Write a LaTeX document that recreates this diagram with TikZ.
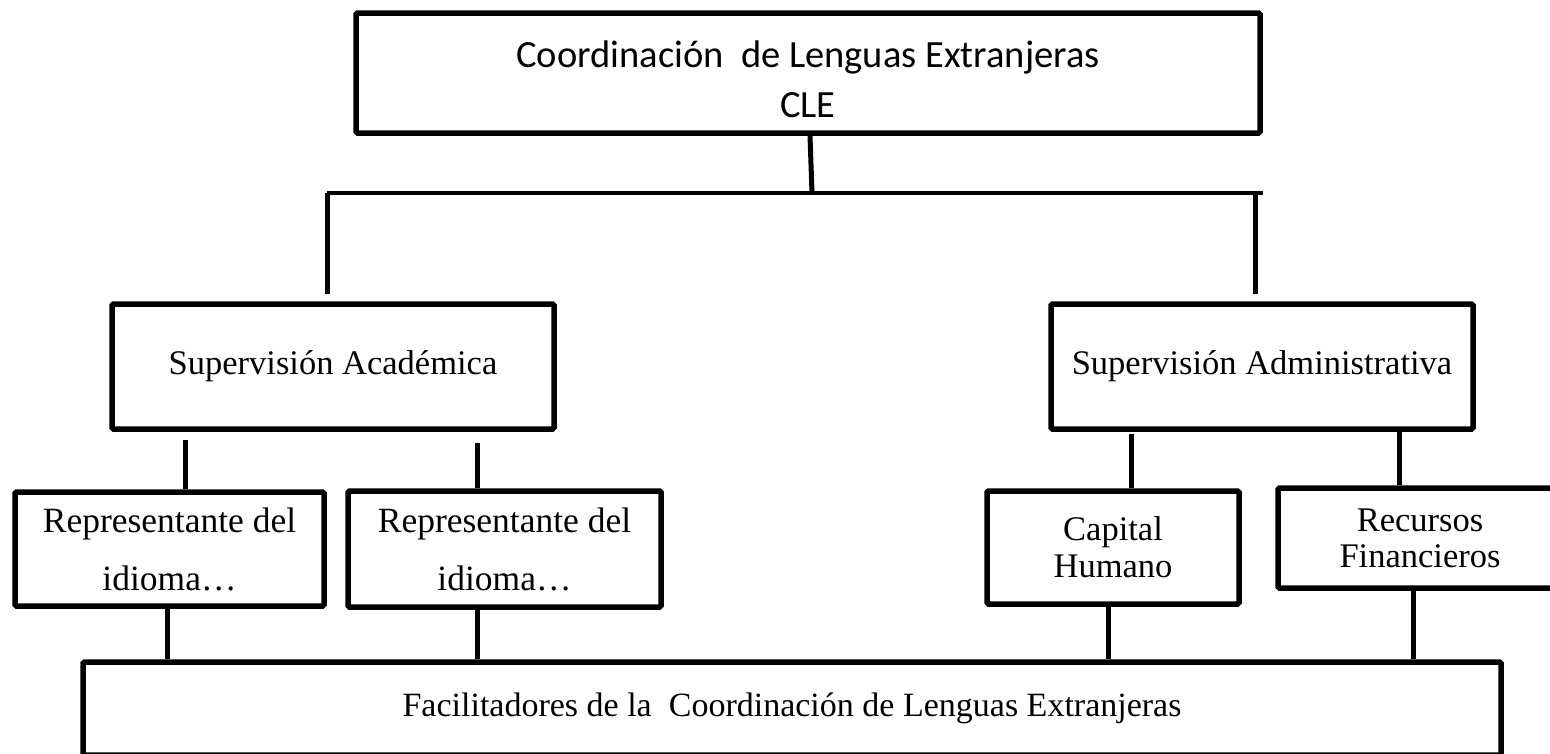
\documentclass[tikz,border=0pt]{standalone}
\usepackage{fontspec}
\setmainfont{Liberation Serif}
\newfontfamily\topfont{Carlito}
\begin{document}
\begin{tikzpicture}[x=1pt,y=-1pt,
  box/.style={draw, line width=5.5pt, rounded corners=1.5pt, inner sep=0pt, align=center,
    font=\fontsize{34.5}{40}\selectfont},
  conn/.style={line width=5pt}]
\useasboundingbox (0,0) rectangle (1550,753);
\clip (0,0) rectangle (1550,753);
% boxes
\node[box, minimum width=904pt, minimum height=120pt] (top) at (808,73) {};
\node[align=center, inner sep=0pt, font=\topfont\fontsize{38.5}{50}\selectfont] (toptext) at ([yshift=-6pt]top.center) {Coordinación~ de Lenguas Extranjeras\\CLE};
\node[box, minimum width=442pt, minimum height=125pt] (supA) at (333,366.5) {Supervisión Académica};
\node[box, minimum width=422pt, minimum height=125pt] (supB) at (1262,366.5) {Supervisión Administrativa};
\node[box, minimum width=309pt, minimum height=114pt, font=\fontsize{35.5}{58}\selectfont] (rep1) at (169.5,549) {Representante del\\idioma…};
\node[box, minimum width=313pt, minimum height=116pt, font=\fontsize{35.5}{58}\selectfont] (rep2) at (504.5,549) {Representante del\\idioma…};
\node[box, minimum width=252pt, minimum height=113pt, font=\fontsize{34.5}{37}\selectfont] (cap) at (1113,547.5) {Capital\\Humano};
\node[box, minimum width=284pt, minimum height=100pt, font=\fontsize{34.5}{36}\selectfont] (rec) at (1420,538) {Recursos\\Financieros};
\node[box, minimum width=1418pt, minimum height=93pt, font=\fontsize{34}{40}\selectfont] (fac) at (792,708.5) {Facilitadores de la~ Coordinación de Lenguas Extranjeras};
% bus
\coordinate (hl) at (327,193);
\coordinate (hm) at (812,193);
\coordinate (hr) at (1263,193);
\coordinate (hrv) at (1255,193);
\draw[conn] ([xshift=2pt]top.south) -- (hm);
\draw[conn, line width=4.5pt] (hl) -- (hr);
\draw[conn, shorten >=7pt] (hl) -- (hl |- supA.north);
\draw[conn, shorten >=7pt] (hrv) -- (hrv |- supB.north);
% supervisors to representatives
\draw[conn] ([xshift=15.5pt]rep1.north) -- ++(0,-49);
\draw[conn] ([xshift=-27.5pt]rep2.north) -- ++(0,-45);
\draw[conn] ([xshift=18pt]cap.north) -- ++(0,-54);
\draw[conn] ([xshift=-21pt]rec.north) -- ++(0,-55);
% to facilitators
\draw[conn] ([xshift=-2.5pt]rep1.south) -- ([xshift=-2.5pt]rep1.south |- fac.north);
\draw[conn] ([xshift=-27.5pt]rep2.south) -- ([xshift=-27.5pt]rep2.south |- fac.north);
\draw[conn] ([xshift=-5pt]cap.south) -- ([xshift=-5pt]cap.south |- fac.north);
\draw[conn] ([xshift=-7pt]rec.south) -- ([xshift=-7pt]rec.south |- fac.north);
\end{tikzpicture}
\end{document}
